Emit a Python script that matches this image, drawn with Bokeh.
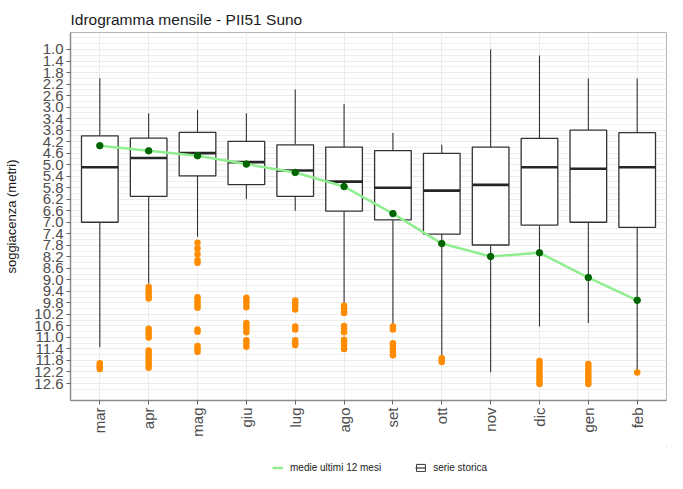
import numpy as np
from bokeh.plotting import figure
from bokeh.layouts import column
from bokeh.models import Range1d, FixedTicker, Legend, LegendItem, ColumnDataSource
from bokeh.embed import file_html
from bokeh.resources import INLINE

months = ["mar", "apr", "mag", "giu", "lug", "ago", "set", "ott", "nov", "dic", "gen", "feb"]

# boxplot statistics (depth in metres; axis reversed)
whisk_top = [2.00, 3.21, 3.09, 3.21, 2.39, 2.89, 3.90, 4.31, 1.00, 1.21, 2.01, 2.01]
box_top   = [4.00, 4.08, 3.88, 4.19, 4.31, 4.39, 4.51, 4.61, 4.39, 4.09, 3.80, 3.89]
median    = [5.09, 4.77, 4.60, 4.91, 5.20, 5.59, 5.80, 5.90, 5.70, 5.09, 5.14, 5.09]
box_bot   = [7.00, 6.10, 5.39, 5.69, 6.10, 6.61, 6.92, 7.41, 7.79, 7.10, 7.00, 7.18]
whisk_bot = [11.34, 9.13, 7.50, 6.20, 6.60, 9.83, 10.58, 11.69, 12.21, 10.62, 10.50, 12.15]

# mean of last 12 months
medie = [4.34, 4.52, 4.69, 4.98, 5.27, 5.76, 6.70, 7.74, 8.19, 8.06, 8.92, 9.71]

# outliers per month
outliers = {
    "mar": [11.90, 11.95, 12.00, 12.05, 12.10],
    "apr": [9.25, 9.35, 9.45, 9.55, 9.65, 10.70, 10.80, 10.90, 11.00,
            11.45, 11.55, 11.65, 11.75, 11.85, 11.95, 12.05],
    "mag": [7.71, 7.91, 8.11, 8.32, 8.41, 9.60, 9.70, 9.80, 9.90, 9.97,
            10.72, 10.80, 11.30, 11.40, 11.50],
    "giu": [9.62, 9.72, 9.82, 9.95, 10.50, 10.60, 10.70, 10.82, 11.10, 11.20, 11.32],
    "lug": [9.72, 9.82, 9.92, 10.03, 10.62, 10.72, 11.10, 11.20, 11.26],
    "ago": [9.90, 10.00, 10.10, 10.15, 10.60, 10.70, 10.82, 11.08, 11.18, 11.28, 11.40],
    "set": [10.62, 10.72, 11.20, 11.30, 11.40, 11.50, 11.62],
    "ott": [11.72, 11.80, 11.85],
    "nov": [],
    "dic": [11.82, 11.92, 12.02, 12.12, 12.22, 12.32, 12.42, 12.52, 12.62],
    "gen": [11.92, 12.02, 12.12, 12.22, 12.32, 12.42, 12.52, 12.62],
    "feb": [12.22],
}

y_ticks = [1.0, 1.4, 1.8, 2.2, 2.6, 3.0, 3.4, 3.8, 4.2, 4.6, 5.0, 5.4, 5.8, 6.2, 6.6,
           7.0, 7.4, 7.8, 8.2, 8.6, 9.0, 9.4, 9.8, 10.2, 10.6, 11.0, 11.4, 11.8, 12.2, 12.6]
y_tick_labels = ["%.1f" % t for t in y_ticks]

xs = np.arange(1, len(months) + 1)
BW = 0.75

p = figure(width=667, height=446, output_backend="svg", toolbar_location=None,
           x_range=Range1d(0.4, 12.6), y_range=Range1d(13.19, 0.41),
           min_border_left=70, min_border_right=1, min_border_top=32, min_border_bottom=46)
p.border_fill_color = "white"

p.title.text = "Idrogramma mensile - PII51 Suno"
p.title.text_font = "Liberation Sans"
p.title.text_font_size = "15.5px"
p.title.text_font_style = "normal"
p.title.text_color = "#1a1a1a"
p.title.align = "left"
p.title.offset = 0

p.background_fill_color = "white"
p.outline_line_color = "#b3b3b3"
p.outline_line_width = 1

# axes
p.xaxis.ticker = FixedTicker(ticks=list(xs))
p.xaxis.major_label_overrides = {int(i): m for i, m in zip(xs, months)}
p.xaxis.major_label_orientation = np.pi / 2
p.xaxis.major_label_text_font = "Liberation Sans"
p.xaxis.major_label_text_font_size = "15px"
p.xaxis.major_label_text_color = "#4d4d4d"

minor = [round(t + 0.2, 1) for t in y_ticks] + [0.6, 0.8]
p.yaxis.ticker = FixedTicker(ticks=y_ticks, minor_ticks=minor)
p.yaxis.major_label_overrides = {t: l for t, l in zip(y_ticks, y_tick_labels)}
p.yaxis.major_label_text_font = "Liberation Sans"
p.yaxis.major_label_text_font_size = "15px"
p.yaxis.major_label_text_color = "#4d4d4d"
p.yaxis.axis_label = "soggiacenza (metri)"
p.yaxis.axis_label_text_font = "Liberation Sans"
p.yaxis.axis_label_text_font_size = "13px"
p.yaxis.axis_label_text_font_style = "normal"
p.yaxis.axis_label_text_color = "#1a1a1a"
p.yaxis.axis_label_standoff = 12

for ax in (p.xaxis, p.yaxis):
    ax.axis_line_color = "#8c8c8c"
    ax.axis_line_width = 1.5
    ax.major_tick_line_color = "#666666"
    ax.major_tick_in = 0
    ax.major_tick_out = 4
    ax.minor_tick_line_color = None
    ax.major_label_standoff = 3

p.xgrid.grid_line_color = "#ebebeb"
p.ygrid.grid_line_color = "#ebebeb"
p.ygrid.minor_grid_line_color = "#ebebeb"
p.ygrid.minor_grid_line_width = 0.8

src = ColumnDataSource(dict(x=xs, x0=xs - BW / 2, x1=xs + BW / 2,
                            wt=whisk_top, bt=box_top, med=median, bb=box_bot, wb=whisk_bot,
                            mean=medie))

# whiskers
p.segment(x0="x", x1="x", y0="wt", y1="bt", source=src, line_color="#333333", line_width=1.1)
p.segment(x0="x", x1="x", y0="bb", y1="wb", source=src, line_color="#333333", line_width=1.1)

# outliers
ox, oy = [], []
for i, m in enumerate(months):
    for v in outliers[m]:
        ox.append(xs[i])
        oy.append(v)
p.scatter(ox, oy, size=6.5, color="#ff8c00", line_color=None)

# boxes
p.vbar(x="x", width=BW, top="bt", bottom="bb", source=src,
       fill_color="white", line_color="#333333", line_width=1.3)
p.segment(x0="x0", x1="x1", y0="med", y1="med", source=src, line_color="#262626", line_width=2.6)

# mean line
p.line("x", "mean", source=src, line_color="#90ee90", line_width=2.5)
p.scatter("x", "mean", source=src, size=6.5, color="#006400")

# legend strip (its glyphs sit outside the visible range; only the legend shows)
p2 = figure(width=667, height=27, output_backend="svg", toolbar_location=None,
            x_range=Range1d(0, 1), y_range=Range1d(0, 1),
            x_axis_location=None, y_axis_location=None,
            min_border_left=0, min_border_right=0, min_border_top=0, min_border_bottom=0)
p2.border_fill_color = "white"
p2.outline_line_color = None
p2.grid.visible = False
lr = p2.line([5, 6], [5, 5], line_color="#90ee90", line_width=2.5)
br = p2.vbar(x=[5], top=[6], bottom=[5], width=0.1, fill_color="white",
             line_color="#333333", line_width=1)
bm = p2.segment(x0=[5], x1=[6], y0=[5], y1=[5], line_color="#333333", line_width=1.2)
legend = Legend(items=[LegendItem(label="medie ultimi 12 mesi", renderers=[lr]),
                       LegendItem(label="serie storica", renderers=[br, bm])],
                orientation="horizontal", location=(202, 0),
                border_line_color=None, background_fill_alpha=0,
                label_text_font="Liberation Sans", label_text_font_size="10px",
                label_text_color="#1a1a1a",
                glyph_width=11, glyph_height=9, spacing=34, padding=0, margin=0,
                label_standoff=7)
p2.add_layout(legend, "center")

layout = column(p, p2, spacing=0)
open("out.html", "w").write(file_html(layout, INLINE))
